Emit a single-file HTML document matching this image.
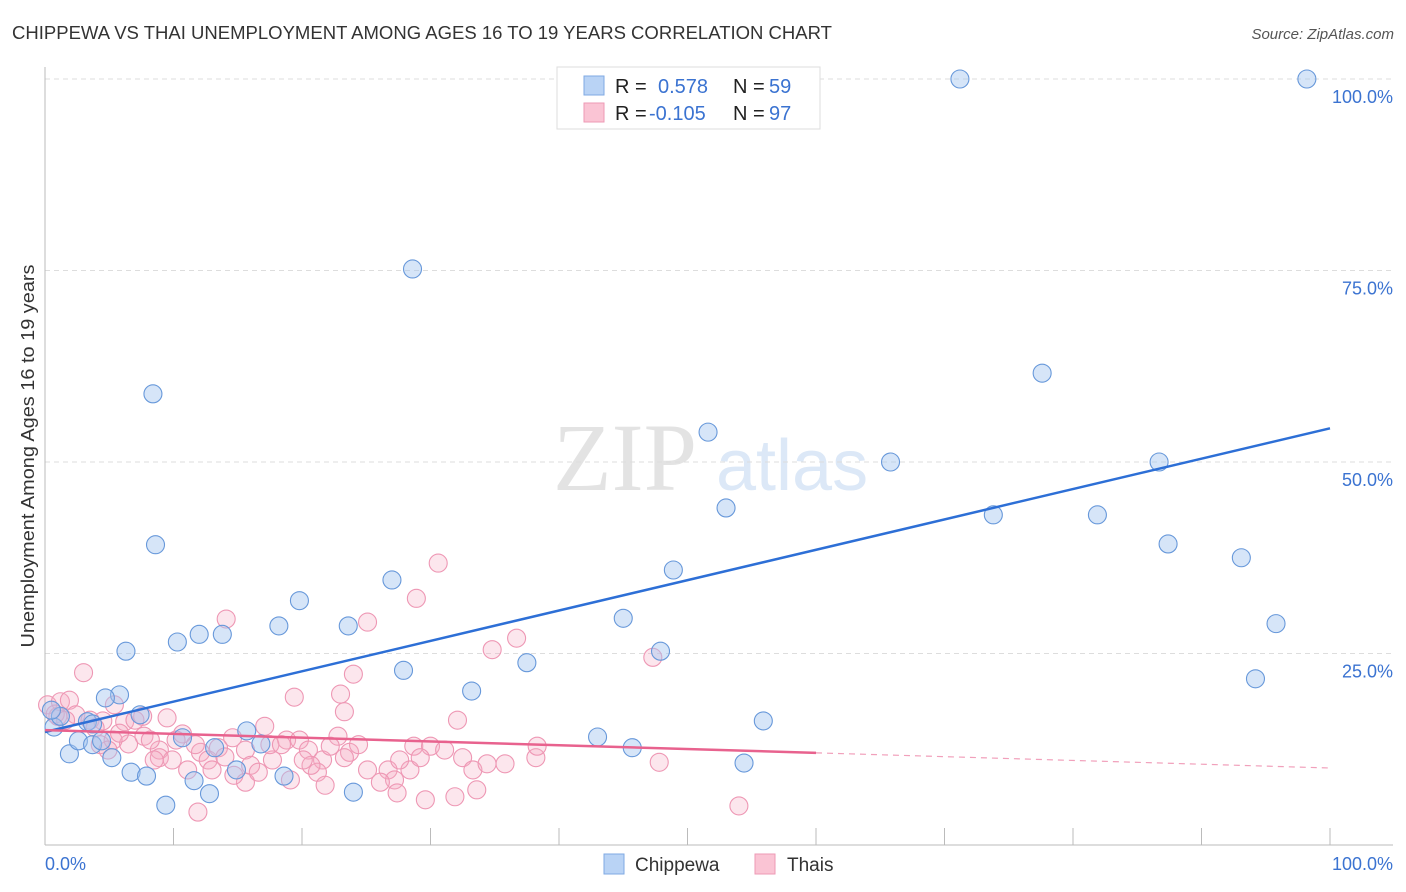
<!DOCTYPE html>
<html><head><meta charset="utf-8"><style>
body{margin:0;background:#fff;}
svg{display:block;font-family:"Liberation Sans",sans-serif;}
</style></head><body>
<svg id="chart" width="1406" height="892" viewBox="0 0 1406 892">
<text x="12" y="39" font-size="18" fill="#333" textLength="820" lengthAdjust="spacingAndGlyphs">CHIPPEWA VS THAI UNEMPLOYMENT AMONG AGES 16 TO 19 YEARS CORRELATION CHART</text>
<text x="1394" y="39" font-size="15" fill="#555" font-style="italic" text-anchor="end">Source: ZipAtlas.com</text>
<g>
<text x="553" y="490" font-family="Liberation Serif,serif" font-size="96" fill="#e3e3e3">ZIP</text>
<text x="716" y="490" font-size="72" fill="#dce8f7">atlas</text>
</g>
<g id="grid"></g>
<g id="axes"></g>
<g id="pts"></g>
<g id="lines"></g>
<text transform="translate(34,456) rotate(-90)" font-size="18" fill="#333" text-anchor="middle" textLength="383" lengthAdjust="spacingAndGlyphs">Unemployment Among Ages 16 to 19 years</text>
<g>
<rect x="557" y="67" width="263" height="62" fill="#fff" stroke="#ddd"/>
<rect x="584" y="76" width="20" height="19" fill="#b9d3f5" stroke="#7fa9e3"/>
<rect x="584" y="103" width="20" height="19" fill="#fac4d4" stroke="#ee9ab5"/>
<text x="615" y="93" font-size="20" fill="#222">R =</text><text x="658" y="93" font-size="20" fill="#3b73d1">0.578</text>
<text x="733" y="93" font-size="20" fill="#222">N =</text><text x="769" y="93" font-size="20" fill="#3b73d1">59</text>
<text x="615" y="120" font-size="20" fill="#222">R =</text><text x="649" y="120" font-size="20" fill="#3b73d1">-0.105</text>
<text x="733" y="120" font-size="20" fill="#222">N =</text><text x="769" y="120" font-size="20" fill="#3b73d1">97</text>
</g>
<g>
<rect x="604" y="854" width="20" height="20" fill="#b9d3f5" stroke="#7fa9e3"/>
<text x="635" y="871" font-size="19" fill="#333">Chippewa</text>
<rect x="755" y="854" width="20" height="20" fill="#fac4d4" stroke="#ee9ab5"/>
<text x="787" y="871" font-size="19" fill="#333">Thais</text>
</g>
</svg>
<script>
const chippewaX=[71.2,98.2,28.6,8.4,77.6,51.6,65.8,86.7,53.0,73.8,81.9,87.4,93.1,8.6,48.9,27.0,19.8,45.0,95.8,10.3,12.0,13.8,18.2,23.6,6.3,47.9,37.5,27.9,94.2,33.2,5.8,4.7,7.4,55.9,15.7,16.8,10.7,43.0,45.7,0.7,1.9,2.6,3.7,4.4,5.2,3.3,6.7,7.9,14.9,11.6,18.6,54.4,9.4,12.8,24.0,13.2,1.2,0.5,3.7];
const chippewaY=[100,100,75.2,58.9,61.6,53.9,50.0,50.0,44.0,43.1,43.1,39.3,37.5,39.2,35.9,34.6,31.9,29.6,28.9,26.5,27.5,27.5,28.6,28.6,25.3,25.3,23.8,22.8,21.7,20.1,19.6,19.2,17.0,16.2,14.9,13.2,14.0,14.1,12.7,15.4,11.9,13.6,13.1,13.6,11.4,16.1,9.5,9.0,9.8,8.4,9.0,10.7,5.2,6.7,6.9,12.7,16.8,17.6,15.8];
const thaisX=[3.0,30.6,28.9,14.1,36.7,25.1,24.0,34.8,47.3,19.4,23.0,0.2,1.2,1.9,2.4,3.5,5.4,6.2,9.5,23.3,32.1,17.1,22.8,10.7,10.2,7.7,6.5,8.9,12.1,12.7,13.5,14.6,15.6,16.0,17.7,15.6,13.0,11.1,8.9,18.8,19.8,20.5,21.6,21.2,21.8,23.7,24.4,26.7,27.2,27.4,28.4,28.7,30.0,31.1,32.5,33.3,33.6,34.4,31.9,29.6,38.2,38.3,11.9,47.8,54.0,14.7,19.1,7.6,4.5,1.0,4.3,5.3,8.2,17.5,20.7,22.2,25.1,26.1,0.8,1.6,3.9,4.9,5.8,7.0,8.5,9.9,11.7,14.0,16.6,18.4,20.1,23.3,27.6,29.2,35.8];
const thaisY=[22.5,36.8,32.2,29.5,27.0,29.1,22.3,25.5,24.5,19.3,19.7,18.3,18.7,18.9,17.0,16.3,18.3,16.1,16.6,17.4,16.3,15.5,14.2,14.5,13.7,14.2,13.2,12.4,12.1,11.1,12.7,14.0,12.4,10.4,11.1,8.2,9.8,9.8,11.4,13.7,13.7,12.4,11.1,9.5,7.8,12.1,13.1,9.8,8.5,6.8,9.8,12.9,12.9,12.4,11.4,9.8,7.2,10.6,6.3,5.9,11.4,12.9,4.3,10.8,5.1,9.1,8.5,16.8,16.2,16.8,13.1,13.7,13.7,13.1,10.4,12.9,9.8,8.2,17.1,16.3,15.3,12.4,14.6,16.3,11.1,11.1,13.1,11.5,9.5,13.1,11.1,11.4,11.1,11.4,10.6];
const chippewaTrend=[14.75,54.4];
const thaisTrend=[15.0,10.05];
const thaisSolidEnd=60;
const yTicks=[25,50,75,100];
const xTickVals=[0,10,20,30,40,50,60,70,80,90,100];
const NS='http://www.w3.org/2000/svg';
const X=v=>45+v*12.85, Y=v=>845-v*7.66;
function mk(tag,attrs,parent){const e=document.createElementNS(NS,tag);for(const k in attrs)e.setAttribute(k,attrs[k]);parent.appendChild(e);return e;}
const grid=document.getElementById('grid'),axes=document.getElementById('axes'),pts=document.getElementById('pts'),lines=document.getElementById('lines');
yTicks.forEach(t=>{
 const l=mk('line',{x1:45,x2:1393,y1:Y(t),y2:Y(t),stroke:'#ddd','stroke-dasharray':'5,4'},grid);
 
 
 const tx=mk('text',{x:1393,y:Y(t)+24,'font-size':18,fill:'#3b73d1','text-anchor':'end'},axes);
 tx.textContent=t.toFixed(1)+'%';
 
 
});
let a=mk('line',{x1:45,x2:45,y1:67,y2:845,stroke:'#bbb'},axes);


a=mk('line',{x1:45,x2:1393,y1:845,y2:845,stroke:'#bbb'},axes);


xTickVals.forEach(t=>{if(t===0)return;
 const l=mk('line',{x1:X(t),x2:X(t),y1:828,y2:845,stroke:'#bbb'},axes);
 
 
});
let xl=mk('text',{x:45,y:870,'font-size':18,fill:'#3b73d1'},axes);xl.textContent='0.0%';


xl=mk('text',{x:1393,y:870,'font-size':18,fill:'#3b73d1','text-anchor':'end'},axes);xl.textContent='100.0%';


thaisX.forEach((v,i)=>{
 const c=mk('circle',{cx:X(v),cy:Y(thaisY[i]),r:9,fill:'rgba(246,172,197,0.3)',stroke:'#ee97b4','stroke-width':1.1},pts);
 
 
});
chippewaX.forEach((v,i)=>{
 const c=mk('circle',{cx:X(v),cy:Y(chippewaY[i]),r:9,fill:'rgba(165,198,240,0.45)',stroke:'#6798da','stroke-width':1.1},pts);
 
 
});
let ln=mk('line',{x1:X(0),y1:Y(chippewaTrend[0]),x2:X(100),y2:Y(chippewaTrend[1]),stroke:'#2d6fd6','stroke-width':2.5},lines);


const ty=x=>thaisTrend[0]+(thaisTrend[1]-thaisTrend[0])*x/100;
ln=mk('line',{x1:X(0),y1:Y(ty(0)),x2:X(thaisSolidEnd),y2:Y(ty(thaisSolidEnd)),stroke:'#e8628e','stroke-width':2.5},lines);


ln=mk('line',{x1:X(thaisSolidEnd),y1:Y(ty(thaisSolidEnd)),x2:X(100),y2:Y(ty(100)),stroke:'#e8628e','stroke-width':1.2,'stroke-dasharray':'6,5',opacity:0.6},lines);


</script>
</body></html>
